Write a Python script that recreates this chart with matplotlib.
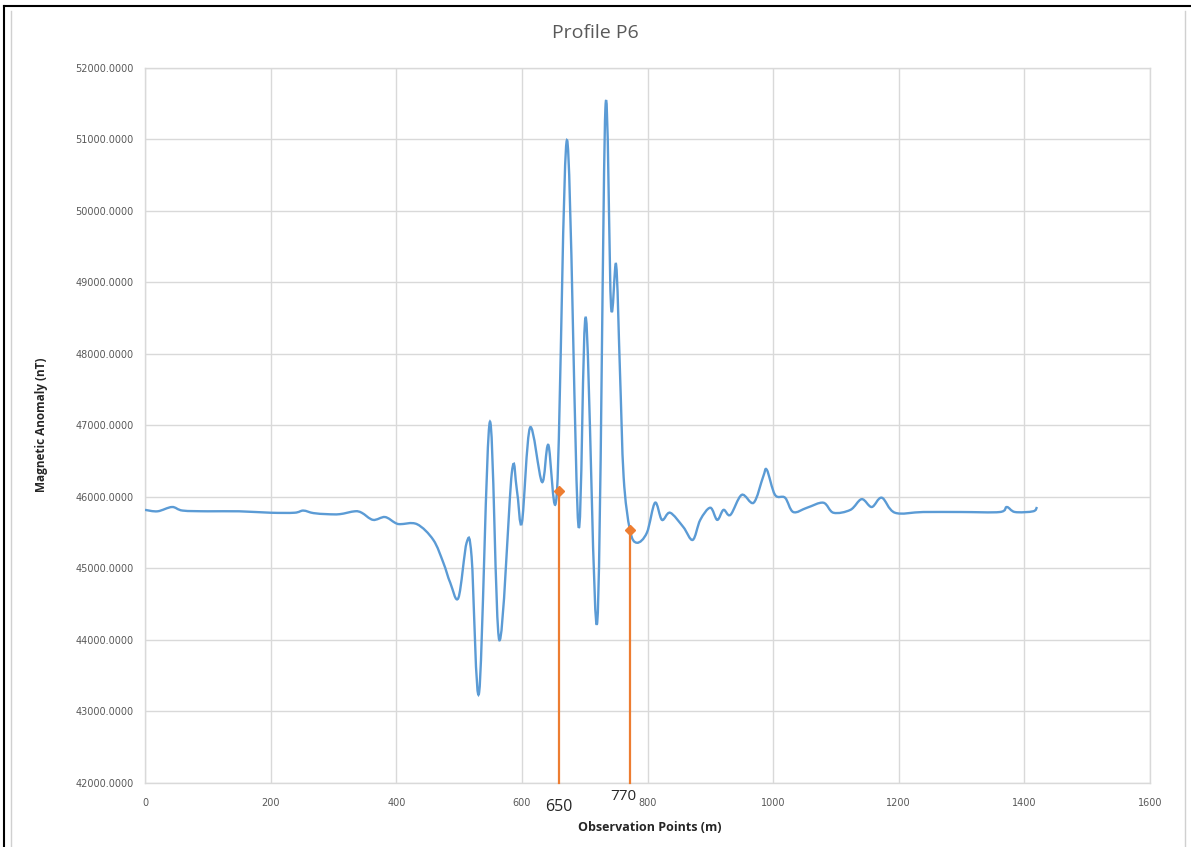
import numpy as np
import matplotlib
matplotlib.use("Agg")
import matplotlib.pyplot as plt
from matplotlib.path import Path
from matplotlib.patches import PathPatch
from matplotlib.lines import Line2D

# ---- data ----
distance_m = [0, 20, 43, 60, 100, 150, 200, 238, 252, 268, 290, 310, 334, 345, 363, 382,
              398, 406, 433, 459, 475, 486, 499, 512, 520, 532, 549, 564, 584, 592, 600,
              613, 632, 642, 656, 672, 690, 702, 720, 733, 742, 750, 756, 762, 772, 783,
              799, 812, 823, 836, 857, 872, 884, 900, 911, 921, 932, 950, 969, 984,
              990, 1003, 1019, 1032, 1054, 1080, 1096, 1123, 1141, 1157, 1173, 1194, 1239,
              1300, 1361, 1372, 1385, 1414, 1420]
anomaly_nT = [45820, 45800, 45860, 45810, 45800, 45800, 45780, 45780, 45810, 45775, 45760,
              45760, 45800, 45780, 45680, 45720, 45640, 45620, 45620, 45400, 45080, 44800,
              44590, 45360, 45160, 43270, 47050, 44000, 46340, 46100, 45640, 46970, 46210,
              46730, 46100, 50990, 45600, 48500, 44250, 51440, 48660, 49250, 47800, 46280,
              45540, 45360, 45500, 45920, 45680, 45780, 45580, 45400, 45680, 45850,
              45680, 45820, 45750, 46030, 45920, 46280, 46380, 46030, 45990, 45790, 45850,
              45920, 45780, 45820, 45970, 45860, 45990, 45780, 45790, 45790, 45790, 45860,
              45790, 45800, 45860]
marker_x = [659, 772]
marker_y = [46080, 45540]
marker_labels = ["650", "770"]
x_ticks = [0, 200, 400, 600, 800, 1000, 1200, 1400, 1600]
y_ticks = [42000, 43000, 44000, 45000, 46000, 47000, 48000, 49000, 50000, 51000, 52000]

# ---- figure ----
fig = plt.figure(figsize=(11.91, 8.47), dpi=100)
ax = fig.add_axes([145/1191, 1-783/847, (1150-145)/1191, (783-68)/847])

# smooth line (Excel-like smoothing: Catmull-Rom to cubic Bezier in data coords)
x = np.array(distance_m, float)
y = np.array(anomaly_nT, float)
verts = [(x[0], y[0])]
codes = [Path.MOVETO]
t = 0.5 / 3.0
for i in range(len(x) - 1):
    x0, y0 = (x[i-1], y[i-1]) if i > 0 else (x[i], y[i])
    x3, y3 = (x[i+2], y[i+2]) if i + 2 < len(x) else (x[i+1], y[i+1])
    c1 = (x[i] + (x[i+1] - x0) * t, y[i] + (y[i+1] - y0) * t)
    c2 = (x[i+1] - (x3 - x[i]) * t, y[i+1] - (y3 - y[i]) * t)
    verts += [c1, c2, (x[i+1], y[i+1])]
    codes += [Path.CURVE4] * 3
ax.add_patch(PathPatch(Path(verts, codes), facecolor="none", edgecolor="#5B9BD5",
                       lw=1.7, zorder=3))

# orange markers with vertical drop lines
for mx, my, lab in zip(marker_x, marker_y, marker_labels):
    ax.plot([mx, mx], [42000, my], color="#ED7D31", lw=1.6, zorder=4, clip_on=False)
    ax.plot([mx], [my], marker="D", color="#ED7D31", ms=5, zorder=5)

ax.set_xlim(0, 1600)
ax.set_ylim(42000, 52000)
ax.set_xticks(x_ticks)
ax.set_yticks(y_ticks)
ax.set_xticklabels([str(v) for v in x_ticks])
ax.set_yticklabels([f"{v}.0000" for v in y_ticks])
ax.tick_params(axis="both", length=0, labelsize=7, labelcolor="#595959", pad=8)
ax.tick_params(axis="x", pad=11)
ax.grid(True, color="#D9D9D9", lw=1.0)
ax.set_axisbelow(True)
for s in ax.spines.values():
    s.set_color("#D9D9D9")
    s.set_linewidth(1.0)

fig.text(595/1191, 1-33/847, "Profile P6", ha="center", va="center",
         fontsize=14, color="#595959", family="Open Sans")
fig.text(42/1191, 1-425/847, "Magnetic Anomaly (nT)", rotation=90, ha="center",
         va="center", fontsize=8.5, fontweight="bold", color="#262626", family="Open Sans")
fig.text(650/1191, 1-827/847, "Observation Points (m)", ha="center", va="center",
         fontsize=9, fontweight="bold", color="#262626", family="Open Sans")
fig.text(559/1191, 1-807/847, marker_labels[0], ha="center", va="center",
         fontsize=11.5, color="#262626", family="Open Sans")
fig.text(623/1191, 1-796/847, marker_labels[1], ha="center", va="center",
         fontsize=11, color="#262626", family="Open Sans")

# page frame
fig.add_artist(Line2D([4/1191, 4/1191], [0, 1-6/847], color="black", lw=1.5, transform=fig.transFigure))
fig.add_artist(Line2D([4/1191, 1], [1-6/847, 1-6/847], color="black", lw=1.5, transform=fig.transFigure))
fig.add_artist(Line2D([11/1191, 11/1191], [0, 1-11/847], color="#D0D0D0", lw=1.0, transform=fig.transFigure))
fig.add_artist(Line2D([1185/1191, 1185/1191], [0, 1-11/847], color="#D0D0D0", lw=1.0, transform=fig.transFigure))

fig.savefig("out.png", dpi=100)
